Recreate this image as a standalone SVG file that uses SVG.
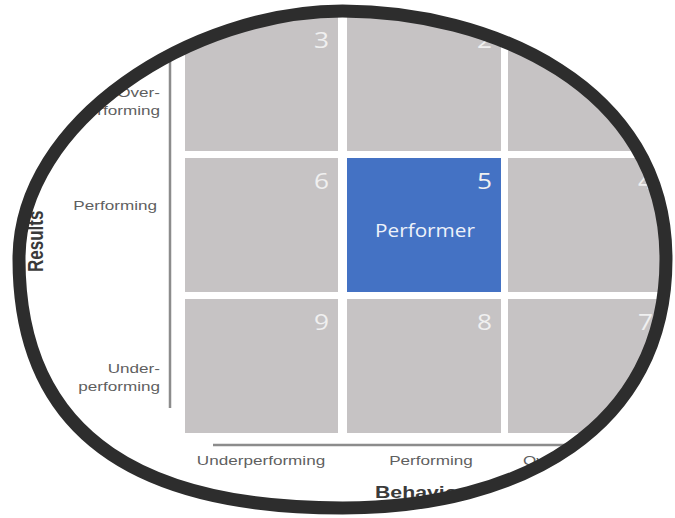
<svg xmlns="http://www.w3.org/2000/svg" width="675" height="518" viewBox="0 0 675 518">
  <style>
    .cell { fill: #c6c3c4; }
    .hi { fill: #4472c4; }
    .num { font-family: "Open Sans", "DejaVu Sans", sans-serif; font-size: 21px; fill: #f0f0f0; text-anchor: end; }
    .tag { font-family: "Open Sans", "DejaVu Sans", sans-serif; font-size: 17.3px; fill: #eef2fa; text-anchor: middle; }
    .lbl { font-family: "Liberation Sans", Arial, sans-serif; font-size: 13.7px; fill: #5f5f5f; }
    .lbl-r { text-anchor: end; }
    .lbl-c { text-anchor: middle; }
    .axis-title { font-family: "Liberation Sans", Arial, sans-serif; font-size: 17px; font-weight: bold; fill: #3a3a3a; }
    .axis { stroke: #8c8c8c; stroke-width: 2.5; fill: none; }
    .rim { fill: none; stroke: #2d2d2d; stroke-width: 13; }
  </style>
  <defs>
    <!-- rounded lens outline; each quarter has its own handle lengths -->
    <path id="lens" d="M 19 259 C 19 119.6, 193.7 11, 342.5 11 C 488 11, 666 84.7, 666 259 C 666 428.3, 520.4 508, 342.5 508 C 154.9 508, 19 445.8, 19 259 Z"/>
    <clipPath id="lens-clip">
      <use href="#lens"/>
    </clipPath>
  </defs>

  <rect width="675" height="518" fill="#ffffff"/>

  <g clip-path="url(#lens-clip)">
    <!-- 3x3 grid: results (rows) against behaviors (columns) -->
    <g id="cell-3">
      <rect class="cell" x="185" y="17" width="153" height="134"/>
      <text class="num" transform="translate(329,48) scale(1.25,1)">3</text>
    </g>
    <g id="cell-2">
      <rect class="cell" x="347" y="17" width="154" height="134"/>
      <text class="num" transform="translate(492,48) scale(1.25,1)">2</text>
    </g>
    <g id="cell-1">
      <rect class="cell" x="508" y="17" width="154" height="134"/>
    </g>

    <g id="cell-6">
      <rect class="cell" x="185" y="158" width="153" height="134"/>
      <text class="num" transform="translate(329,189) scale(1.25,1)">6</text>
    </g>
    <g id="cell-5">
      <rect class="hi" x="347" y="158" width="154" height="134"/>
      <text class="num" transform="translate(492,189) scale(1.25,1)">5</text>
      <text class="tag" transform="translate(425,237) scale(1.2,1)">Performer</text>
    </g>
    <g id="cell-4">
      <rect class="cell" x="508" y="158" width="154" height="134"/>
      <text class="num" transform="translate(653,189) scale(1.25,1)">4</text>
    </g>

    <g id="cell-9">
      <rect class="cell" x="185" y="299" width="153" height="134"/>
      <text class="num" transform="translate(329,330) scale(1.25,1)">9</text>
    </g>
    <g id="cell-8">
      <rect class="cell" x="347" y="299" width="154" height="134"/>
      <text class="num" transform="translate(492,330) scale(1.25,1)">8</text>
    </g>
    <g id="cell-7">
      <rect class="cell" x="508" y="299" width="154" height="134"/>
      <text class="num" transform="translate(653,330) scale(1.25,1)">7</text>
    </g>

    <!-- axis lines -->
    <g id="axes">
      <line class="axis" x1="170" y1="17" x2="170" y2="408"/>
      <line class="axis" x1="213" y1="445" x2="670" y2="445"/>
    </g>

    <!-- results (vertical) axis labels -->
    <g id="results-axis">
      <text class="lbl lbl-r" transform="translate(160,97) scale(1.25,1)">Over-</text>
      <text class="lbl lbl-r" transform="translate(160,115) scale(1.25,1)">performing</text>
      <text class="lbl lbl-r" transform="translate(157,210) scale(1.25,1)">Performing</text>
      <text class="lbl lbl-r" transform="translate(160,373) scale(1.25,1)">Under-</text>
      <text class="lbl lbl-r" transform="translate(160,391) scale(1.25,1)">performing</text>
      <text class="axis-title" transform="translate(43,272) scale(1.25,1) rotate(-90)">Results</text>
    </g>

    <!-- behaviors (horizontal) axis labels -->
    <g id="behaviors-axis">
      <text class="lbl lbl-c" transform="translate(261,465) scale(1.25,1)">Underperforming</text>
      <text class="lbl lbl-c" transform="translate(431,465) scale(1.25,1)">Performing</text>
      <text class="lbl" transform="translate(523,465) scale(1.25,1)">Overperforming</text>
      <text class="axis-title" transform="translate(375,498) scale(1.25,1)">Behaviors</text>
    </g>
  </g>

  <!-- lens rim -->
  <use href="#lens" class="rim"/>
</svg>
